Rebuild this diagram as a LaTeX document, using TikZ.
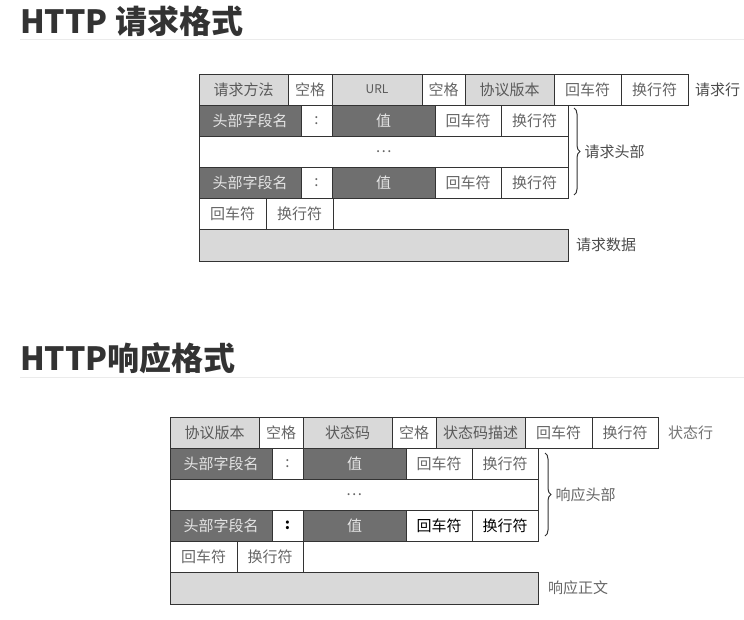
\documentclass[tikz,border=0pt]{standalone}
\usepackage{fontspec}
\setmainfont{Noto Sans CJK SC}
\usetikzlibrary{positioning, decorations.pathreplacing}
\definecolor{lightcell}{HTML}{D9D9D9}
\definecolor{darkcell}{HTML}{6F6F6F}
\tikzset{ cell/.style = { draw = black!80
                        , line width   = 1pt
                        , inner sep    = 0pt
                        , outer sep    = 0pt
                        , minimum height = 31pt
                        , font = \fontsize{15}{17}\selectfont
                        },
          gc/.style = { cell, fill = lightcell, text = black!65 },
          dc/.style = { cell, fill = darkcell, text = black!10 },
          wc/.style = { cell, fill = white, text = black!60 },
          lbl/.style = { inner sep = 0pt
                       , font = \fontsize{15}{17}\selectfont
                       , text = black!70
                       },
          ttl/.style = { inner sep = 0pt, anchor = west
                       , font = \fontsize{32}{35}\selectfont\bfseries
                       , text = black!80
                       },
          hbrace/.style = { decorate
                          , decoration = {brace, amplitude=6pt}
                          , draw = black!80, line width = 1pt
                          }
        }

\begin{document}
\begin{tikzpicture}[x=1pt, y=-1pt]
    \useasboundingbox (0,0) rectangle (744,619);
    % titles
    \node[ttl] (t1) at (20,21) {HTTP 请求格式};
    \coordinate (u1a) at (20,39);
    \coordinate (u1b) at (744,39);
    \draw[black!8, line width=1pt] (u1a) -- (u1b);
    \node[ttl] (t2) at (20,358) {HTTP响应格式};
    \coordinate (u2a) at (20,377);
    \coordinate (u2b) at (744,377);
    \draw[black!8, line width=1pt] (u2a) -- (u2b);

    % request line
    \node[gc, minimum width=89pt, anchor=north west] (rqm) at (199,74) {请求方法};
    \node[wc, minimum width=44pt, right=0pt of rqm] (rqs1) {空格};
    \node[gc, minimum width=90pt, right=0pt of rqs1, font=\fontsize{12}{14}\selectfont] (rqu) {URL};
    \node[wc, minimum width=43pt, right=0pt of rqu] (rqs2) {空格};
    \node[gc, minimum width=89pt, right=0pt of rqs2] (rqv) {协议版本};
    \node[wc, minimum width=67pt, right=0pt of rqv] (rqcr) {回车符};
    \node[wc, minimum width=67pt, right=0pt of rqcr] (rqlf) {换行符};
    \node[lbl, right=7pt of rqlf] (rqlbl) {请求行};
    % request headers
    \node[dc, minimum width=102pt, anchor=north west] (rqh1) at (rqm.south west) {头部字段名};
    \node[wc, minimum width=31pt, right=0pt of rqh1] (rqc1) {:};
    \node[dc, minimum width=103pt, right=0pt of rqc1] (rqv1) {值};
    \node[wc, minimum width=66pt, right=0pt of rqv1] (rqcr1) {回车符};
    \node[wc, minimum width=67pt, right=0pt of rqcr1] (rqlf1) {换行符};
    \node[wc, minimum width=369pt, anchor=north west] (rqd) at (rqh1.south west) {…};
    \node[dc, minimum width=102pt, anchor=north west] (rqh2) at (rqd.south west) {头部字段名};
    \node[wc, minimum width=31pt, right=0pt of rqh2] (rqc2) {:};
    \node[dc, minimum width=103pt, right=0pt of rqc2] (rqv2) {值};
    \node[wc, minimum width=66pt, right=0pt of rqv2] (rqcr2) {回车符};
    \node[wc, minimum width=67pt, right=0pt of rqcr2] (rqlf2) {换行符};
    \draw[hbrace] ([xshift=6pt, yshift=-3pt]rqlf1.north east) -- ([xshift=6pt, yshift=3pt]rqlf2.south east)
        node[lbl, midway, right=10pt] (rqhlbl) {请求头部};
    % empty line and body
    \node[wc, minimum width=67pt, anchor=north west] (rqecr) at (rqh2.south west) {回车符};
    \node[wc, minimum width=67pt, right=0pt of rqecr] (rqelf) {换行符};
    \node[gc, minimum width=369pt, minimum height=32pt, anchor=north west] (rqb) at (rqecr.south west) {};
    \node[lbl, right=8pt of rqb] (rqblbl) {请求数据};

    % status line
    \node[gc, minimum width=89pt, anchor=north west] (rsv) at (170,417) {协议版本};
    \node[wc, minimum width=44pt, right=0pt of rsv] (rss1) {空格};
    \node[gc, minimum width=89pt, right=0pt of rss1] (rsc) {状态码};
    \node[wc, minimum width=44pt, right=0pt of rsc] (rss2) {空格};
    \node[gc, minimum width=89pt, right=0pt of rss2] (rsd) {状态码描述};
    \node[wc, minimum width=67pt, right=0pt of rsd] (rscr) {回车符};
    \node[wc, minimum width=66pt, right=0pt of rscr] (rslf) {换行符};
    \node[lbl, right=10pt of rslf, text=black!55] (rslbl) {状态行};
    % response headers
    \node[dc, minimum width=102pt, anchor=north west] (rsh1) at (rsv.south west) {头部字段名};
    \node[wc, minimum width=31pt, right=0pt of rsh1] (rsc1) {:};
    \node[dc, minimum width=103pt, right=0pt of rsc1] (rsv1) {值};
    \node[wc, minimum width=66pt, right=0pt of rsv1] (rscr1) {回车符};
    \node[wc, minimum width=66pt, right=0pt of rscr1] (rslf1) {换行符};
    \node[wc, minimum width=368pt, anchor=north west] (rsd1) at (rsh1.south west) {…};
    \node[dc, minimum width=102pt, anchor=north west] (rsh2) at (rsd1.south west) {头部字段名};
    \node[wc, minimum width=31pt, right=0pt of rsh2, text=black] (rsc2) {\bfseries :};
    \node[dc, minimum width=103pt, right=0pt of rsc2] (rsv2) {值};
    \node[wc, minimum width=66pt, right=0pt of rsv2, text=black] (rscr2) {回车符};
    \node[wc, minimum width=66pt, right=0pt of rscr2, text=black] (rslf2) {换行符};
    \draw[hbrace] ([xshift=7pt, yshift=-5pt]rslf1.north east) -- ([xshift=7pt, yshift=5pt]rslf2.south east)
        node[lbl, midway, right=10pt, text=black!60] (rshlbl) {响应头部};
    % empty line and body
    \node[wc, minimum width=67pt, anchor=north west] (rsecr) at (rsh2.south west) {回车符};
    \node[wc, minimum width=66pt, right=0pt of rsecr] (rself) {换行符};
    \node[gc, minimum width=368pt, minimum height=32pt, anchor=north west] (rsb) at (rsecr.south west) {};
    \node[lbl, right=10pt of rsb, text=black!60] (rsblbl) {响应正文};
\end{tikzpicture}
\end{document}
